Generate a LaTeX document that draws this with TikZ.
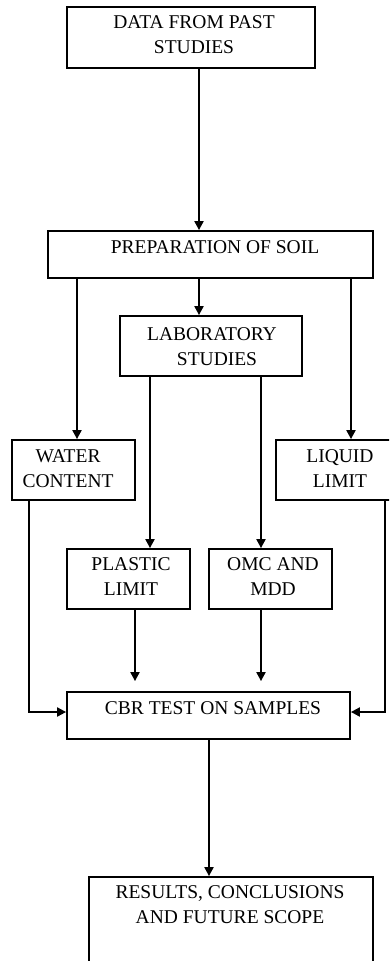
\documentclass[tikz,border=0pt]{standalone}
\usepackage{fontspec}
\setmainfont{Liberation Serif}
\usetikzlibrary{arrows.meta}
\begin{document}
\begin{tikzpicture}[x=1pt,y=-1pt,
  box/.style={draw, line width=1.8pt, rectangle, inner sep=0pt},
  lbl/.style={font=\fontsize{19.5}{24.5}\selectfont, align=center, inner sep=0pt},
  arr/.style={line width=2pt, -{Triangle[width=9pt,length=9pt]}}]
\useasboundingbox (0,0) rectangle (389,961);
\clip (0,0) rectangle (389,961);
% boxes
\node[box, minimum width=248pt, minimum height=61pt] (data) at (191,37.5) {};
\node[box, minimum width=325pt, minimum height=47pt] (prep) at (210.5,254.5) {};
\node[box, minimum width=182pt, minimum height=60pt] (lab) at (211,346) {};
\node[box, minimum width=123pt, minimum height=60pt] (water) at (73.5,470) {};
\node[box, minimum width=124pt, minimum height=60pt] (liquid) at (338,470) {};
\node[box, minimum width=123pt, minimum height=60pt] (plastic) at (128.5,579) {};
\node[box, minimum width=123pt, minimum height=60pt] (omc) at (270.5,579) {};
\node[box, minimum width=283pt, minimum height=47pt] (cbr) at (208.5,715.5) {};
\node[box, minimum width=284pt, minimum height=110pt] (results) at (231,932) {};
% texts
\node[lbl] (tdata) at (194,34.5) {DATA FROM PAST\\STUDIES};
\node[lbl] (tprep) at (215,247) {PREPARATION OF SOIL};
\node[lbl] (tlab) at (212,346.5) {LABORATORY\\\hspace*{10pt}STUDIES};
\node[lbl] (twater) at (68,468.5) {WATER\\CONTENT};
\node[lbl] (tliquid) at (340,468.5) {LIQUID\\LIMIT};
\node[lbl] (tplastic) at (131,576.5) {PLASTIC\\LIMIT};
\node[lbl] (tomc) at (273,576.5) {OMC AND\\MDD};
\node[lbl] (tcbr) at (213,708) {CBR TEST ON SAMPLES};
\node[lbl] (tresults) at (230,904.5) {RESULTS, CONCLUSIONS\\AND FUTURE SCOPE};
% columns
\coordinate (c1) at (199,0);
\coordinate (c2) at (77,0);
\coordinate (c3) at (351,0);
\coordinate (c4) at (150,0);
\coordinate (c5) at (261,0);
\coordinate (c6) at (135,0);
\coordinate (c8) at (29,0);
\coordinate (c9) at (385,0);
\coordinate (c10) at (209,0);
\coordinate (r1) at (0,712);
% connectors
\draw[arr] (data.south -| c1) -- (prep.north -| c1);
\draw[arr] (prep.south -| c2) -- (water.north -| c2);
\draw[arr] (prep.south -| c1) -- (lab.north -| c1);
\draw[arr] (prep.south -| c3) -- (liquid.north -| c3);
\draw[arr] (lab.south -| c4) -- (plastic.north -| c4);
\draw[arr] (lab.south -| c5) -- (omc.north -| c5);
\draw[arr] (plastic.south -| c6) -- ([yshift=10pt]cbr.north -| c6);
\draw[arr] (omc.south -| c5) -- ([yshift=10pt]cbr.north -| c5);
\draw[arr] (water.south -| c8) |- (r1 -| cbr.west);
\draw[arr] (liquid.south -| c9) |- (r1 -| cbr.east);
\draw[arr] (cbr.south -| c10) -- (results.north -| c10);
\end{tikzpicture}
\end{document}
